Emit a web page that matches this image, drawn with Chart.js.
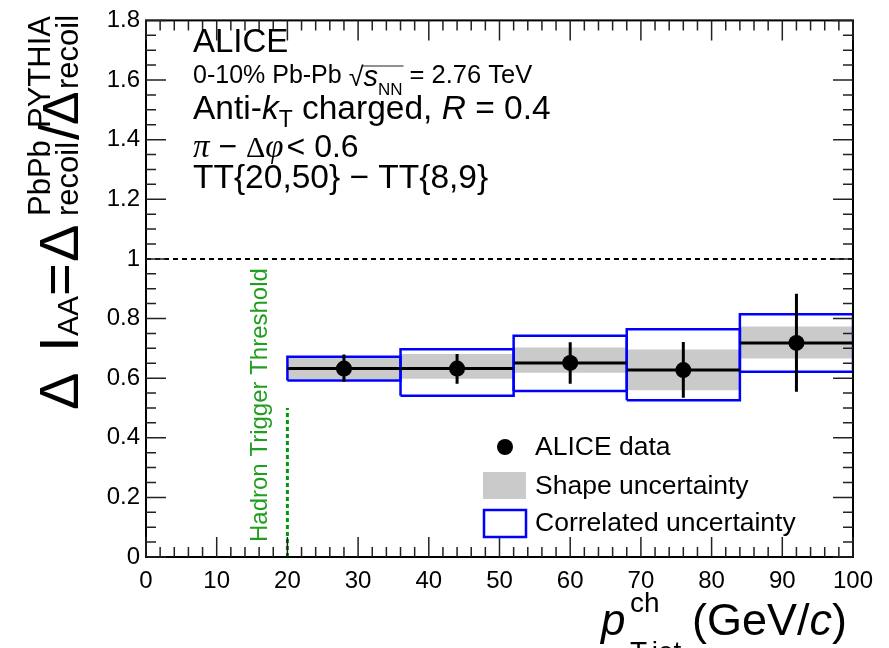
<!DOCTYPE html>
<html>
<head>
<meta charset="utf-8">
<script src="https://cdn.jsdelivr.net/npm/chart.js"></script>
<style>
  html, body { margin: 0; padding: 0; background: #fff; }
  #wrap { width: 889px; height: 648px; }
</style>
</head>
<body>
<div id="wrap"><canvas id="iaaChart" width="889" height="648"></canvas></div>
<script>
// bins in p_T,jet^ch (GeV/c)
const binLo   = [20, 36, 52, 68, 84];
const binHi   = [36, 52, 68, 84, 100];
const binMid  = [28, 44, 60, 76, 92];
// Delta I_AA values and uncertainties
const iaa     = [0.632, 0.632, 0.651, 0.627, 0.718];
const statLo  = [0.588, 0.581, 0.581, 0.534, 0.554];
const statHi  = [0.679, 0.681, 0.720, 0.721, 0.883];
const shapeLo = [0.596, 0.598, 0.618, 0.559, 0.666];
const shapeHi = [0.668, 0.681, 0.703, 0.696, 0.773];
const corrLo  = [0.592, 0.541, 0.557, 0.526, 0.621];
const corrHi  = [0.672, 0.697, 0.742, 0.764, 0.814];
// reference lines
const unityX = [0, 100], unityY = [1, 1];
const trigX  = [20, 20], trigY  = [0, 0.5];
// axis ticks
const xTickStep = 10, yTickStep = 0.2;

const SANS = '"Liberation Sans", Arial, Helvetica, sans-serif';
const SERIF = '"Liberation Serif", "Times New Roman", serif';

let datasets = [];

binLo.forEach((lo, i) => {
    datasets.push({
        data: [{x: lo, y: shapeHi[i]}, {x: binHi[i], y: shapeHi[i]}],
        fill: {value: shapeLo[i]},
        backgroundColor: '#cacaca',
        borderColor: 'rgba(0,0,0,0)',
        borderWidth: 0,
        pointRadius: 0,
        order: 6
    });
});

binLo.forEach((lo, i) => {
    datasets.push({
        data: [
            {x: lo, y: corrLo[i]}, {x: binHi[i], y: corrLo[i]},
            {x: binHi[i], y: corrHi[i]}, {x: lo, y: corrHi[i]},
            {x: lo, y: corrLo[i]}
        ],
        fill: false,
        borderColor: '#0000ff',
        borderWidth: 2.5,
        pointRadius: 0,
        order: 4
    });
});

let hLines = [], vBars = [], pts = [];
binLo.forEach((lo, i) => {
    hLines.push({x: lo, y: iaa[i]}, {x: binHi[i], y: iaa[i]}, {x: binHi[i], y: null});
    vBars.push({x: binMid[i], y: statLo[i]}, {x: binMid[i], y: statHi[i]}, {x: binMid[i], y: null});
    pts.push({x: binMid[i], y: iaa[i]});
});

datasets.push({data: hLines, borderColor: '#000', borderWidth: 3, pointRadius: 0, fill: false, order: 2});
datasets.push({data: vBars, borderColor: '#000', borderWidth: 3, pointRadius: 0, fill: false, order: 1});
datasets.push({data: pts, showLine: false, pointRadius: 8, pointBackgroundColor: '#000', pointBorderWidth: 0, order: 0});

datasets.push({
    data: unityX.map((x, i) => ({x: x, y: unityY[i]})),
    borderColor: '#000', borderWidth: 2, borderDash: [5, 4], pointRadius: 0, fill: false, order: 7
});
datasets.push({
    data: trigX.map((x, i) => ({x: x, y: trigY[i]})),
    borderColor: '#00990a', borderWidth: 3, borderDash: [4, 3], pointRadius: 0, fill: false, order: 7
});

// draw a run of text pieces, returns end x
function rich(ctx, x, y, parts) {
    parts.forEach(p => {
        ctx.font = (p.style || '') + ' ' + p.size + 'px ' + (p.family || SANS);
        ctx.fillText(p.t, x + (p.dx || 0), y + (p.dy || 0));
        x += ctx.measureText(p.t).width + (p.dx || 0);
    });
    return x;
}

// y title piece drawn rotated; yStart = bottom end, bx = baseline x
function vtext(ctx, t, yStart, bx, size, style) {
    ctx.save();
    ctx.rotate(-Math.PI / 2);
    ctx.font = (style || '') + ' ' + size + 'px ' + SANS;
    ctx.fillText(t, -yStart, bx);
    ctx.restore();
}

const decorations = {
    id: 'decorations',
    afterDraw(chart) {
        const ctx = chart.ctx;
        const {left, right, top, bottom} = chart.chartArea;
        const xs = chart.scales.x, ys = chart.scales.y;
        ctx.save();

        // frame + inward ticks on all sides
        ctx.strokeStyle = '#000';
        ctx.lineWidth = 2;
        ctx.strokeRect(left, top, right - left, bottom - top);
        ctx.lineWidth = 1.5;
        ctx.strokeStyle = '#222';
        ctx.beginPath();
        for (let v = 0; v <= 100; v += 2) {
            const px = xs.getPixelForValue(v);
            const L = v % 10 === 0 ? 20 : 10;
            ctx.moveTo(px, bottom); ctx.lineTo(px, bottom - L);
            ctx.moveTo(px, top); ctx.lineTo(px, top + L);
        }
        for (let k = 0; k <= 36; k++) {
            const py = ys.getPixelForValue(k * 0.05);
            const L = k % 4 === 0 ? 20 : 10;
            ctx.moveTo(left, py); ctx.lineTo(left + L, py);
            ctx.moveTo(right, py); ctx.lineTo(right - L, py);
        }
        ctx.stroke();

        ctx.fillStyle = '#000';
        ctx.textAlign = 'left';
        ctx.textBaseline = 'alphabetic';

        // header text
        rich(ctx, 193, 52, [{t: 'ALICE', size: 33}]);
        let x = rich(ctx, 193, 83, [{t: '0-10% Pb-Pb ', size: 25}]);
        x = rich(ctx, x, 86, [{t: '\u221A', size: 27}]);
        const sx = x;
        x = rich(ctx, x, 86, [{t: 's', size: 29, style: 'italic'}]);
        x = rich(ctx, x, 95, [{t: 'NN', size: 17}]);
        ctx.lineWidth = 1.2;
        ctx.beginPath(); ctx.moveTo(sx - 1, 66); ctx.lineTo(x + 1, 66); ctx.stroke();
        rich(ctx, x, 83, [{t: ' = 2.76 TeV', size: 25.5}]);

        x = rich(ctx, 193, 119, [{t: 'Anti-', size: 33.5}, {t: 'k', size: 33.5, style: 'italic'}]);
        x = rich(ctx, x, 127, [{t: 'T', size: 23}]);
        rich(ctx, x, 119, [{t: ' charged, ', size: 33.5}, {t: 'R', size: 33.5, style: 'italic'}, {t: ' = 0.4', size: 33.5}]);

        rich(ctx, 193, 157, [
            {t: '\u03C0', size: 33, style: 'italic', family: SERIF},
            {t: ' \u2212 ', size: 32},
            {t: '\u0394', size: 30, family: SERIF},
            {t: '\u03C6', size: 33, style: 'italic', family: SERIF},
            {t: '< 0.6', size: 32, dx: 3}
        ]);
        rich(ctx, 193, 188, [{t: 'TT{20,50} \u2212 TT{8,9}', size: 33.5}]);

        // legend
        ctx.beginPath(); ctx.arc(505, 447, 8, 0, Math.PI * 2); ctx.fill();
        rich(ctx, 535, 455, [{t: 'ALICE data', size: 26.5}]);
        ctx.fillStyle = '#cacaca';
        ctx.fillRect(483, 472, 43, 27);
        ctx.fillStyle = '#000';
        rich(ctx, 535, 494, [{t: 'Shape uncertainty', size: 26.5}]);
        ctx.strokeStyle = '#0000ff'; ctx.lineWidth = 2.5;
        ctx.strokeRect(484, 510, 42, 27);
        rich(ctx, 535, 531, [{t: 'Correlated uncertainty', size: 26.5}]);

        // trigger threshold label
        ctx.fillStyle = '#1f9e1f';
        vtext(ctx, 'Hadron Trigger Threshold', 542, 267, 24);

        // y axis title
        ctx.fillStyle = '#000';
        vtext(ctx, '\u0394', 410, 78, 56);
        vtext(ctx, 'I', 352, 78, 56);
        vtext(ctx, 'AA', 336, 78, 30);
        vtext(ctx, '=', 296, 78, 56);
        vtext(ctx, '\u0394', 262, 78, 56);
        vtext(ctx, 'recoil', 216, 78, 31);
        vtext(ctx, 'PbPb', 216, 50, 31);
        vtext(ctx, '/', 140, 78, 56);
        vtext(ctx, '\u0394', 125, 78, 50);
        vtext(ctx, 'recoil', 89, 78, 31);
        vtext(ctx, 'PYTHIA', 128, 50, 31);

        // x axis title
        rich(ctx, 601, 635, [{t: 'p', size: 44, style: 'italic'}]);
        rich(ctx, 630, 612, [{t: 'ch', size: 28}]);
        rich(ctx, 630, 661, [{t: 'T,jet', size: 28}]);
        rich(ctx, 692, 635, [
            {t: '(GeV/', size: 45}, {t: 'c', size: 45, style: 'italic'}, {t: ')', size: 45}
        ]);

        ctx.restore();
    }
};

const ctx = document.getElementById('iaaChart').getContext('2d');
window.iaaChart = new Chart(ctx, {
    type: 'line',
    data: {datasets: datasets},
    options: {
        responsive: false,
        animation: false,
        events: [],
        layout: {padding: {top: 17, right: 36, left: 0, bottom: 0}},
        plugins: {legend: {display: false}, tooltip: {enabled: false}},
        scales: {
            x: {
                type: 'linear', min: 0, max: 100,
                grid: {display: false, drawTicks: false},
                border: {display: false},
                ticks: {stepSize: xTickStep, color: '#000', font: {family: SANS, size: 24}, padding: 10, maxRotation: 0, autoSkip: false},
                afterFit(s) { s.height = 91; }
            },
            y: {
                type: 'linear', min: 0, max: 1.8,
                grid: {display: false, drawTicks: false},
                border: {display: false},
                ticks: {stepSize: yTickStep, color: '#000', font: {family: SANS, size: 24}, padding: 6,
                        callback: v => String(+v.toFixed(1))},
                afterFit(s) { s.width = 146; }
            }
        }
    },
    plugins: [decorations]
});
</script>
</body>
</html>
